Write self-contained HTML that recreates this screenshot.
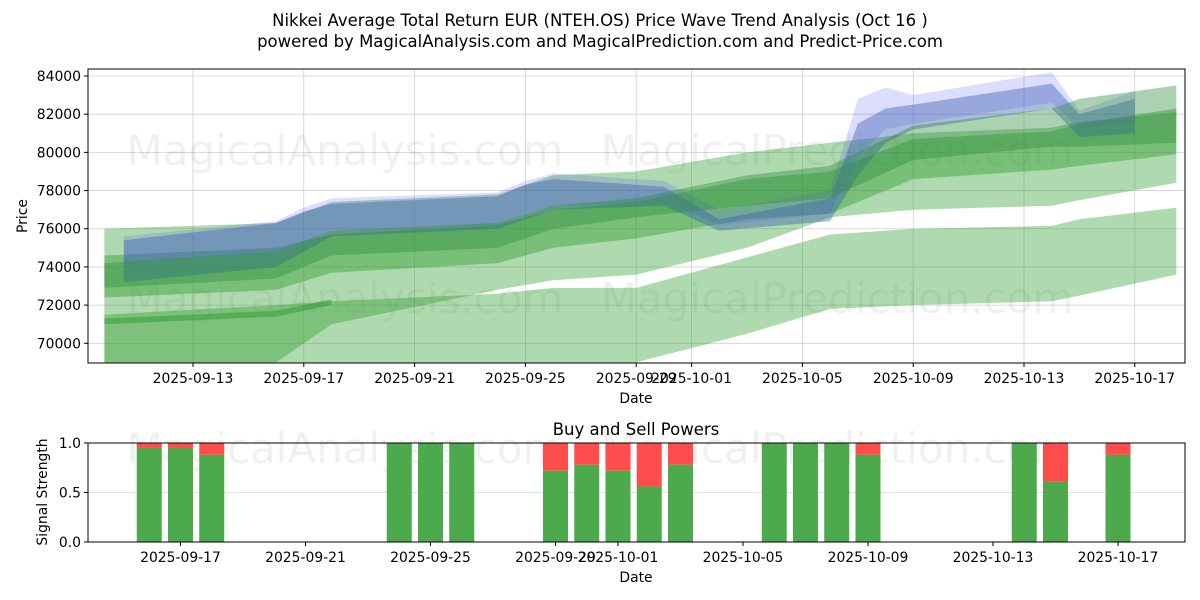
<!DOCTYPE html>
<html><head><meta charset="utf-8">
<style>
body{margin:0;background:#fff;}
svg{display:block;font-family:"DejaVu Sans","Liberation Sans",sans-serif;}
</style></head>
<body>
<svg id="chart" width="1200" height="600" viewBox="0 0 1200 600" xmlns="http://www.w3.org/2000/svg">
<text x="600" y="26" text-anchor="middle" font-size="16.5" fill="#000">Nikkei Average Total Return EUR (NTEH.OS) Price Wave Trend Analysis (Oct 16 )</text>
<text x="600" y="47" text-anchor="middle" font-size="16.5" fill="#000">powered by MagicalAnalysis.com and MagicalPrediction.com and Predict-Price.com</text>
<g id="topAxes"></g>
<g id="bottomAxes"></g>
</svg>
<script>
// ---- price chart data (day numbers: Sept day, Oct = 30 + day) ----
const priceTicks = [70000,72000,74000,76000,78000,80000,82000,84000];
const topDateTicks = ["2025-09-13","2025-09-17","2025-09-21","2025-09-25","2025-09-29","2025-10-01","2025-10-05","2025-10-09","2025-10-13","2025-10-17"];
const topDateDays = [13,17,21,25,29,31,35,39,43,47];
const blueDays  = [10.5,16,17,18,24,25,26,30,32,36,37,38,39,44,45,47];
const blueUpper = [75400,76300,76900,77300,77700,78300,78600,78200,76500,77600,81500,82300,82500,83600,82000,82800];
const blueLower = [73200,74000,74800,75600,76000,76500,77000,77200,75900,76400,78800,80500,81200,82300,80800,81000];
const blue2Upper = [75600,76400,77100,77600,77900,78500,78900,78500,77000,78000,82800,83400,83000,84200,82200,83200];
const blue2Lower = [74200,74800,75300,75900,76200,76800,77200,77400,76200,76800,79800,81200,81500,82600,81300,81600];
const gDays   = [9.8,16,18,24,26,29,33,36,39,44,45,48.5];
const g1Upper = [76000,76300,77400,77800,78800,79000,80000,80500,81000,81300,81600,82100];
const g1Lower = [69000,69000,71000,72800,73300,73600,75000,76600,77000,77200,77500,78400];
const g2Upper = [71500,72000,72200,72600,72900,72900,74500,75700,76000,76150,76500,77100];
const g2Lower = [68900,68900,68900,68900,68900,69000,70500,71800,72000,72200,72500,73600];
const g3Upper = [74600,75000,75700,76200,77000,77400,78600,79000,80700,81100,81500,82300];
const g3Lower = [72400,72800,73700,74200,75000,75500,76500,76800,78600,79100,79300,79900];
const g4Upper = [74200,74800,75900,76300,77200,77600,78800,79300,81400,82300,82800,83500];
const g4Lower = [72900,73400,74600,75000,76000,76600,77200,77600,79600,80300,80300,80500];
const stripDays  = [9.8,16,18];
const stripUpper = [71300,71700,72300];
const stripLower = [71000,71400,72000];
// ---- signal chart data ----
const sigTicks = [0.0,0.5,1.0];
const botDateTicks = ["2025-09-17","2025-09-21","2025-09-25","2025-09-29","2025-10-01","2025-10-05","2025-10-09","2025-10-13","2025-10-17"];
const botDateDays = [17,21,25,29,31,35,39,43,47];
const barDays = [16,17,18,24,25,26,29,30,31,32,33,36,37,38,39,44,45,47];
const buyPower = [0.95,0.95,0.88,1,1,1,0.72,0.78,0.72,0.56,0.78,1,1,1,0.88,1,0.61,0.88];

const NS="http://www.w3.org/2000/svg";
function mk(tag,attrs,parent){const e=document.createElementNS(NS,tag);for(const k in attrs)e.setAttribute(k,attrs[k]);parent.appendChild(e);return e;}

const T={l:88,r:1185,t:69,b:363};
const xT=d=>193+(d-13)*27.7;
const yT=v=>76+(84000-v)*(267.3/14000);
const topG=document.getElementById('topAxes');
const clip=mk('clipPath',{id:'clipTop'},topG);
mk('rect',{x:T.l,y:T.t,width:T.r-T.l,height:T.b-T.t},clip);
const grid=mk('g',{},topG);
priceTicks.forEach(v=>{const l=mk('line',{x1:T.l,x2:T.r,y1:yT(v),y2:yT(v),stroke:'#d0d0d0','stroke-width':0.8},grid);

});
topDateDays.forEach(d=>{const l=mk('line',{x1:xT(d),x2:xT(d),y1:T.t,y2:T.b,stroke:'#d0d0d0','stroke-width':0.8},grid);

});
[[345,165,'MagicalAnalysis.com'],[837,165,'MagicalPrediction.com'],[345,313,'MagicalAnalysis.com'],[837,313,'MagicalPrediction.com']].forEach(w=>{
const t=mk('text',{x:w[0],y:w[1],'text-anchor':'middle','font-size':42,fill:'#000','fill-opacity':0.06},topG);t.textContent=w[2];

});
const bands=mk('g',{'clip-path':'url(#clipTop)'},topG);
function band(days,up,lo,fill,op,name){
let p='';days.forEach((d,i)=>{p+=(i?'L':'M')+xT(d).toFixed(1)+','+yT(up[i]).toFixed(1);});
for(let i=days.length-1;i>=0;i--)p+='L'+xT(days[i]).toFixed(1)+','+yT(lo[i]).toFixed(1);
const e=mk('path',{d:p+'Z',fill:fill,'fill-opacity':op},bands);

}
band(gDays,g2Upper,g2Lower,'#2e9b2e',0.38,'forecast-band-low');
band(gDays,g1Upper,g1Lower,'#2e9b2e',0.38,'forecast-band-wide');
band(stripDays,stripUpper,stripLower,'#2e9b2e',0.5,'forecast-strip');
band(gDays,g3Upper,g3Lower,'#2e9b2e',0.42,'forecast-band-mid');
band(blueDays,blue2Upper,blue2Lower,'#5555ff',0.2,'wave-band-outer');
band(blueDays,blueUpper,blueLower,'#3a5fb0',0.42,'wave-band-main');
band(gDays,g4Upper,g4Lower,'#2e8b3e',0.4,'forecast-band-upper');
mk('rect',{x:T.l,y:T.t,width:T.r-T.l,height:T.b-T.t,fill:'none',stroke:'#000','stroke-width':1},topG);
priceTicks.forEach(v=>{mk('line',{x1:T.l-4,x2:T.l,y1:yT(v),y2:yT(v),stroke:'#000'},topG);
const t=mk('text',{x:T.l-7,y:yT(v)+5,'text-anchor':'end','font-size':13.9},topG);t.textContent=v;

});
topDateTicks.forEach((s,i)=>{const x=xT(topDateDays[i]);mk('line',{x1:x,x2:x,y1:T.b,y2:T.b+4,stroke:'#000'},topG);
const t=mk('text',{x:x,y:T.b+20,'text-anchor':'middle','font-size':13.9},topG);t.textContent=s;

});
let a=mk('text',{x:636,y:403,'text-anchor':'middle','font-size':13.9},topG);a.textContent='Date';


a=mk('text',{x:27,y:216,'text-anchor':'middle','font-size':13.9,transform:'rotate(-90 27 216)'},topG);a.textContent='Price';



const B={l:88,r:1185,t:443,b:542};
const xB=d=>180.5+(d-17)*31.25;
const yB=v=>B.b-v*(B.b-B.t);
const botG=document.getElementById('bottomAxes');
let st=mk('text',{x:636,y:435,'text-anchor':'middle','font-size':16.5},botG);st.textContent='Buy and Sell Powers';


mk('line',{x1:B.l,x2:B.r,y1:yB(0.5),y2:yB(0.5),stroke:'#d8d8d8','stroke-width':0.8},botG);
[[345,463,'MagicalAnalysis.com'],[837,463,'MagicalPrediction.com']].forEach(w=>{
const t=mk('text',{x:w[0],y:w[1],'text-anchor':'middle','font-size':42,fill:'#000','fill-opacity':0.06},botG);t.textContent=w[2];

});
barDays.forEach((d,i)=>{const x=xB(d)-12.5,b=buyPower[i];
const g=mk('rect',{x:x,y:yB(b),width:25,height:yB(0)-yB(b),fill:'#4caa4c'},botG);


const r=mk('rect',{x:x,y:yB(1),width:25,height:yB(b)-yB(1),fill:'#ff4d4d'},botG);

});
mk('rect',{x:B.l,y:B.t,width:B.r-B.l,height:B.b-B.t,fill:'none',stroke:'#000','stroke-width':1},botG);
sigTicks.forEach(v=>{mk('line',{x1:B.l-4,x2:B.l,y1:yB(v),y2:yB(v),stroke:'#000'},botG);
const t=mk('text',{x:B.l-7,y:yB(v)+5,'text-anchor':'end','font-size':13.9},botG);t.textContent=v.toFixed(1);

});
botDateTicks.forEach((s,i)=>{const x=xB(botDateDays[i]);mk('line',{x1:x,x2:x,y1:B.b,y2:B.b+4,stroke:'#000'},botG);
const t=mk('text',{x:x,y:B.b+20,'text-anchor':'middle','font-size':13.9},botG);t.textContent=s;

});
a=mk('text',{x:636,y:582,'text-anchor':'middle','font-size':13.9},botG);a.textContent='Date';


a=mk('text',{x:47,y:492,'text-anchor':'middle','font-size':13.9,transform:'rotate(-90 47 492)'},botG);a.textContent='Signal Strength';


</script>
</body></html>
